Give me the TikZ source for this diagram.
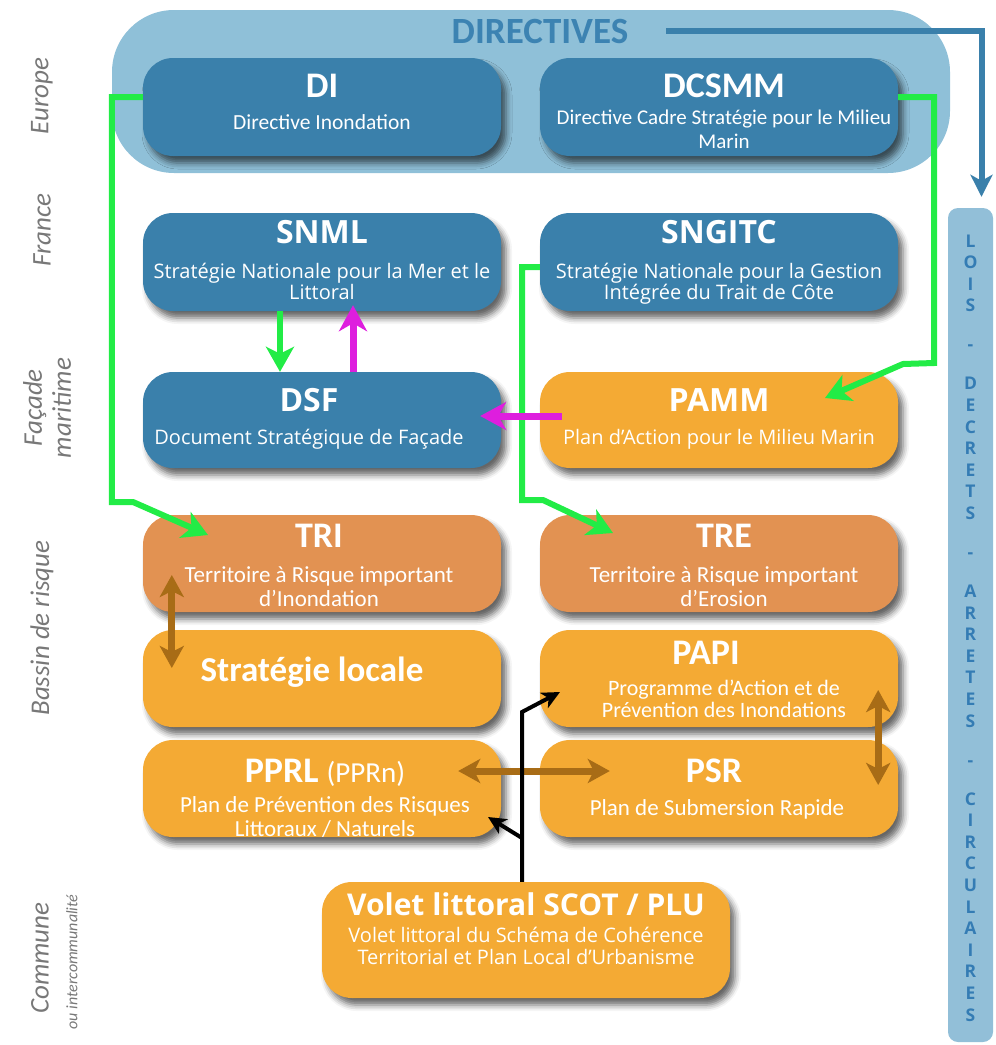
\documentclass[tikz,border=0pt]{standalone}
\usepackage{fontspec}
\setmainfont{Open Sans}
\newfontfamily\calfam{Carlito}
\usetikzlibrary{arrows.meta,shadows.blur,calc}

\definecolor{boxblue}{RGB}{58,128,171}
\definecolor{dirbg}{RGB}{143,192,216}
\definecolor{dirtext}{RGB}{60,131,178}
\definecolor{boxorange}{RGB}{244,170,52}
\definecolor{boxbrown}{RGB}{226,146,82}
\definecolor{linkgreen}{RGB}{34,236,70}
\definecolor{linkmag}{RGB}{222,30,222}
\definecolor{linkbrown}{RGB}{168,108,22}
\definecolor{sidebg}{RGB}{146,191,216}
\definecolor{sidetext}{RGB}{52,124,180}
\definecolor{lvlgrey}{RGB}{120,120,120}

\begin{document}
\begin{tikzpicture}[x=1pt,y=-1pt,
  card/.style={rounded corners=30, minimum width=358, minimum height=98, inner sep=0,
    blur shadow={shadow xshift=5pt, shadow yshift=-7pt, shadow blur radius=6pt, shadow opacity=60}},
  bluecard/.style={card, fill=boxblue},
  orangecard/.style={card, fill=boxorange},
  browncard/.style={card, fill=boxbrown},
  ttlO/.style={font=\fontsize{32}{36}\selectfont\bfseries, text=white, inner sep=0, anchor=base},
  ttlC/.style={font=\calfam\fontsize{36}{40}\selectfont\bfseries, text=white, inner sep=0, anchor=base},
  dscO/.style={font=\fontsize{20}{21}\selectfont, text=white, inner sep=0, align=center, anchor=base},
  dscC/.style={font=\calfam\fontsize{23}{24}\selectfont, text=white, inner sep=0, align=center, anchor=base},
  lvl/.style={rotate=90, font=\calfam\itshape\fontsize{27}{29}\selectfont, text=lvlgrey, align=center, inner sep=0},
  grn/.style={draw=linkgreen, line width=6, -{Stealth[length=25pt,width=28pt,inset=7pt]}},
  mag/.style={draw=linkmag, line width=7, -{Stealth[length=26pt,width=28pt,inset=8pt]}},
  brn/.style={draw=linkbrown, line width=7, {Stealth[length=22pt,width=24pt,inset=6pt]}-{Stealth[length=22pt,width=24pt,inset=6pt]}},
  blk/.style={draw=black, line width=4, -{Stealth[length=18pt,width=17pt,inset=5pt]}},
  dirarrow/.style={draw=boxblue, line width=6, -{Stealth[length=22pt,width=22pt,inset=6pt]}}
]
\useasboundingbox (0,0) rectangle (996,1045);

% level labels
\node[lvl] (lEurope) at (42,96) {Europe};
\node[lvl] (lFrance) at (42,230) {France};
\node[lvl] (lFacade) at (47,408) {Façade\\maritime};
\node[lvl] (lBassin) at (42,628) {Bassin de risque};
\node[lvl] (lCommune) at (40,958) {Commune};
\node[rotate=90, font=\calfam\itshape\fontsize{16}{18}\selectfont, text=lvlgrey, inner sep=0] (lInter) at (72,962) {ou intercommunalité};

% European directives panel
\node[fill=dirbg, rounded corners=62, minimum width=838, minimum height=163, inner sep=0] (dirbg) at (531,91.5) {};
\node[font=\calfam\fontsize{37}{40}\selectfont\bfseries, text=dirtext, inner sep=0] (dirT) at (540,31) {DIRECTIVES};

% laws side bar
\node[fill=sidebg, rounded corners=10, minimum width=45, minimum height=834, inner sep=0] (lois) at (970.5,625) {};
\node[font=\fontsize{17.5}{21.6}\selectfont\bfseries, text=sidetext, align=center, inner sep=0, anchor=base] (loisT) at (970.5,1021)
  {L\\O\\I\\S\\[17.4pt]-\\[17.4pt]D\\E\\C\\R\\E\\T\\S\\[17.4pt]-\\[17.4pt]A\\R\\R\\E\\T\\E\\S\\[17.4pt]-\\[17.4pt]C\\I\\R\\C\\U\\L\\A\\I\\R\\E\\S};

% cards
\node[bluecard] (di) at (322,107) {};
\node[bluecard] (dcsmm) at (719,107) {};
\node[bluecard] (snml) at (322,262) {};
\node[bluecard] (sngitc) at (719,262) {};
\node[bluecard, minimum height=96] (dsf) at (322,420) {};
\node[orangecard, minimum height=96] (pamm) at (719,420) {};
\node[browncard, minimum height=97] (tri) at (322,563.5) {};
\node[browncard, minimum height=97] (tre) at (719,563.5) {};
\node[orangecard, minimum height=97] (strat) at (322,678.5) {};
\node[orangecard, minimum height=97] (papi) at (719,678.5) {};
\node[orangecard, minimum height=97] (pprl) at (322,788.5) {};
\node[orangecard, minimum height=97] (psr) at (719,788.5) {};
\node[orangecard, minimum width=408, minimum height=116] (volet) at (526,940) {};

% card texts (multi-line texts are placed by the baseline of their last line)
\node[ttlC] (diT) at (322,97) {DI};
\node[dscC, font=\calfam\fontsize{21.5}{24}\selectfont] (diD) at (322,129) {Directive Inondation};
\node[ttlC] (dcsmmT) at (724,97) {DCSMM};
\node[dscC, font=\calfam\fontsize{21}{24}\selectfont] (dcsmmD) at (724,148) {Directive Cadre Stratégie pour le Milieu\\Marin};
\node[ttlO] (snmlT) at (322,243) {SNML};
\node[dscO] (snmlD) at (322,299) {Stratégie Nationale pour la Mer et le\\Littoral};
\node[ttlO] (sngitcT) at (719,243) {SNGITC};
\node[dscO] (sngitcD) at (719,299) {Stratégie Nationale pour la Gestion\\Intégrée du Trait de Côte};
\node[ttlO] (dsfT) at (309,411) {DSF};
\node[dscO] (dsfD) at (309,444) {Document Stratégique de Façade};
\node[ttlO] (pammT) at (719,411) {PAMM};
\node[dscO] (pammD) at (719,444) {Plan d’Action pour le Milieu Marin};
\node[ttlC] (triT) at (319,547) {TRI};
\node[dscC] (triD) at (319,606) {Territoire à Risque important\\d’Inondation};
\node[ttlC] (treT) at (724,547) {TRE};
\node[dscC] (treD) at (724,606) {Territoire à Risque important\\d’Erosion};
\node[ttlC, font=\calfam\fontsize{35}{40}\selectfont\bfseries] (stratT) at (312,681) {Stratégie locale};
\node[ttlC] (papiT) at (706,664) {PAPI};
\node[dscC, font=\calfam\fontsize{22}{22}\selectfont] (papiD) at (724,717) {Programme d’Action et de\\Prévention des Inondations};
\node[ttlC] (pprlT) at (325,782) {PPRL {\mdseries\fontsize{29}{32}\selectfont (PPRn)}};
\node[dscC] (pprlD) at (325,836) {Plan de Prévention des Risques\\Littoraux / Naturels};
\node[ttlC] (psrT) at (714,782) {PSR};
\node[dscC] (psrD) at (717,815) {Plan de Submersion Rapide};
\node[ttlO, font=\fontsize{30}{32}\selectfont\bfseries] (voletT) at (526,915) {Volet littoral SCOT / PLU};
\node[dscO, font=\fontsize{20}{22}\selectfont] (voletD) at (526,964) {Volet littoral du Schéma de Cohérence\\Territorial et Plan Local d’Urbanisme};

% link end points
\coordinate (triIn) at (208,535);
\coordinate (treIn) at (613,533);
\coordinate (pammIn) at (825,398);
\coordinate (papiIn) at (560,692);
\coordinate (pprlIn) at (488,817);
\coordinate (voletJ) at (522,838);

% directives to national laws
\draw[dirarrow] ([xshift=38pt]dirT.east) -| ([xshift=11pt,yshift=11pt]lois.north);

% green links
\draw[grn] ([yshift=10pt]di.west) -- ++(-31,0) |- (133,502) -- (triIn);
\draw[grn] ([yshift=10pt]dcsmm.east) -| (934,363) -- (903,364) -- (pammIn);
\draw[grn] ([yshift=-5pt]sngitc.west) -| (522,500) -- (543,500) -- (treIn);
\draw[grn] ([xshift=-42pt]snml.south) -- ([xshift=-42pt]dsf.north);

% magenta links
\draw[mag] ([xshift=31pt]dsf.north) -- ([xshift=31pt,yshift=6pt]snml.south);
\draw[mag] ([xshift=22pt,yshift=4pt]pamm.west) -- ([xshift=-21pt,yshift=4pt]dsf.east);

% brown two-way links
\draw[brn] ($(tri.west)+(29,11.5)$) -- ($(strat.west)+(29,-10.5)$);
\draw[brn] ($(pprl.east)+(-43,-17.5)$) -- ($(psr.west)+(70,-17.5)$);
\draw[brn] ($(papi.east)+(-20,11.5)$) -- ($(psr.east)+(-20,-3.5)$);

% black links from the local plan
\draw[blk] ([xshift=-4pt]volet.north) -- (522,712) -- (papiIn);
\draw[blk] (voletJ) -- (pprlIn);
\end{tikzpicture}
\end{document}
